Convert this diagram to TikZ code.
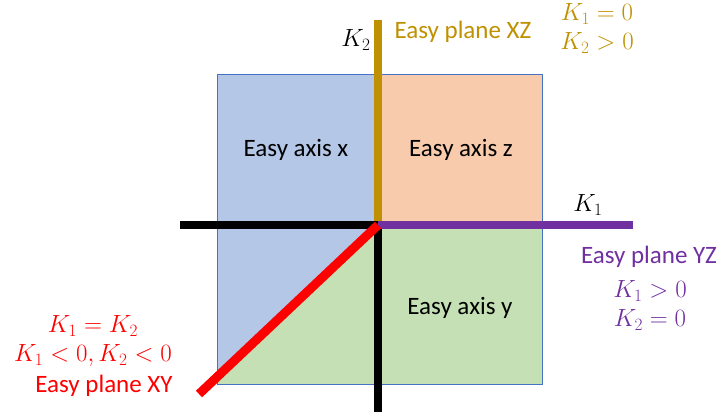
\documentclass[tikz,border=0pt]{standalone}
\usepackage{fontspec}
\setmainfont{Carlito}
\usepackage{amsmath}
\usetikzlibrary{positioning, calc}
\definecolor{quadblue}{RGB}{180, 199, 231}
\definecolor{quadorange}{RGB}{248, 203, 173}
\definecolor{quadgreen}{RGB}{197, 224, 180}
\definecolor{boxblue}{RGB}{68, 114, 196}
\definecolor{planegold}{RGB}{191, 144, 0}
\definecolor{planepurple}{RGB}{112, 48, 160}
\definecolor{planered}{RGB}{255, 0, 0}
\tikzset{
	word/.style={font=\fontsize{25}{29}\selectfont, anchor=base, inner sep=0pt},
	eq/.style={font=\fontsize{24}{28}\selectfont, anchor=base, inner sep=0pt},
	thickline/.style={line width=7.5pt}
}

\begin{document}
\begin{tikzpicture}[x=1pt,y=-1pt]
			\useasboundingbox (0,0) rectangle (724,414);
			% line ends
			\coordinate (o) at (378,225);
			\coordinate (k2end) at (378,20);
			\coordinate (k1end) at (633,225);
			\coordinate (leftend) at (180,225);
			\coordinate (downend) at (378,412);
			\coordinate (xyend) at (199,394);
			
			% quadrants
			\fill[quadblue] (217,74) rectangle (o);
			\fill[quadblue] (217,225) rectangle (378,384);
			\fill[quadorange] (378,74) rectangle (542,225);
			\fill[quadgreen] (o) rectangle (542,384);
			\fill[quadgreen] (o) -- (217,377) -- (217,384) -- (378,384) -- cycle;
			\draw[boxblue, line width=0.8pt] (217,74) rectangle (542,384);
			
			\node[word] (axx) at (296,157) {Easy axis x};
			\node[word] (axz) at (461,157) {Easy axis z};
			\node[word] (axy) at (460,315) {Easy axis y};
			
			% axes
			\draw[thickline, planegold] (k2end) -- (o);
			\draw[thickline, black] (leftend) -- (o);
			\draw[thickline, black] (o) -- (downend);
			\draw[thickline, planepurple] (o) -- (k1end);
			\draw[line width=9pt, planered] (o) -- (xyend);
			
			% labels
			\node[eq] (k2lab) at (356,47) {$K_2$};
			\node[eq] (k1lab) at (588,212) {$K_1$};
			
			\node[word, planegold] (xz) at (463,39) {Easy plane XZ};
			\node[eq, planegold] (xzone) at (597,21) {$K_1=0$};
			\node[eq, planegold] (xztwo) at (597,50) {$K_2>0$};
			
			\node[word, planepurple] (yz) at (649,264) {Easy plane YZ};
			\node[eq, planepurple] (yzone) at (650,298) {$K_1>0$};
			\node[eq, planepurple] (yztwo) at (650,327) {$K_2=0$};
			
			\node[eq, planered] (xyone) at (93,333) {$K_1=K_2$};
			\node[eq, planered] (xytwo) at (93,362) {$K_1<0,K_2<0$};
			\node[word, planered] (xy) at (104,393) {Easy plane XY};
		\end{tikzpicture}
\end{document}
